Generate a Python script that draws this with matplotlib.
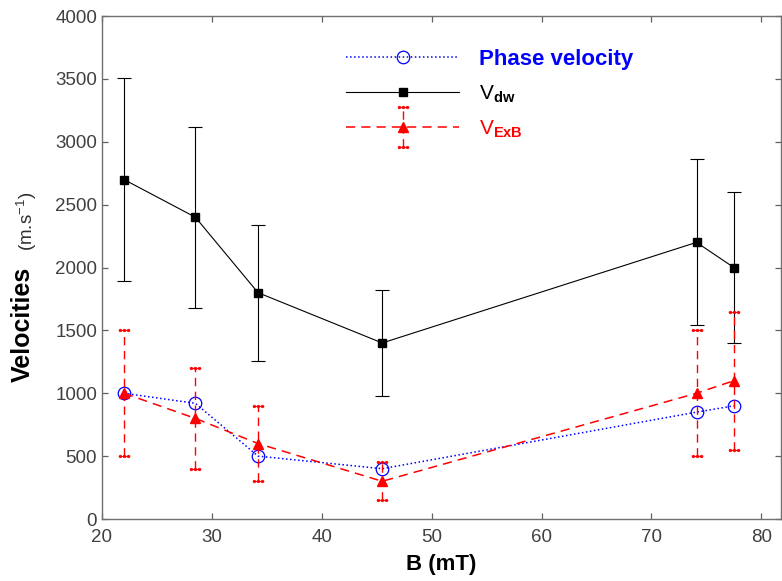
import numpy as np
import matplotlib.pyplot as plt
from matplotlib.path import Path
from matplotlib.lines import Line2D
from matplotlib.legend_handler import HandlerErrorbar

plt.rcParams['font.family'] = ['Liberation Sans', 'DejaVu Sans']
plt.rcParams['mathtext.fontset'] = 'custom'
plt.rcParams['mathtext.rm'] = 'Liberation Sans'
plt.rcParams['mathtext.bf'] = 'Liberation Sans:bold'
plt.rcParams['mathtext.default'] = 'regular'

# magnetic field (mT) for each measurement
field = [22.0, 28.5, 34.2, 45.5, 74.1, 77.5]

# phase velocity (m/s)
v_phase = [1000, 920, 500, 400, 850, 900]

# drift wave velocity and its error (m/s)
v_dw = [2700, 2400, 1800, 1400, 2200, 2000]
v_dw_err = [810, 720, 540, 420, 660, 600]

# ExB drift velocity and its error (m/s)
v_exb = [1000, 800, 600, 300, 1000, 1100]
v_exb_err = [500, 400, 300, 150, 500, 550]

xticks = [20, 30, 40, 50, 60, 70, 80]
yticks = [0, 500, 1000, 1500, 2000, 2500, 3000, 3500, 4000]

# cap marker that looks like a short dotted segment
dots = [Path.circle((cx, 0.0), 0.38) for cx in (-1.1, 0.0, 1.1)]
bar = Path([(-1.1, -0.1), (1.1, -0.1), (1.1, 0.1), (-1.1, 0.1), (-1.1, -0.1)],
           [Path.MOVETO, Path.LINETO, Path.LINETO, Path.LINETO, Path.CLOSEPOLY])
dotcap = Path.make_compound_path(*dots, bar)


def style_cap(line):
    line.set_marker(dotcap)
    line.set_markersize(8)
    line.set_markerfacecolor('red')
    line.set_markeredgecolor('red')
    line.set_markeredgewidth(0.3)


class DotCapHandler(HandlerErrorbar):
    def create_artists(self, *args, **kw):
        arts = super().create_artists(*args, **kw)
        for a in arts:
            if isinstance(a, Line2D) and a.get_marker() == '_':
                style_cap(a)
        return arts


fig = plt.figure(figsize=(7.82, 5.81), dpi=100)
ax = fig.add_axes([0.1304, 0.1067, 0.8685, 0.8657])

ph, = ax.plot(field, v_phase, linestyle=':', color='blue', lw=1.1,
              marker='o', markersize=9, markerfacecolor='none',
              markeredgecolor='blue', markeredgewidth=0.9, zorder=4)

dw = ax.errorbar(field, v_dw, yerr=v_dw_err, color='black', lw=0.8,
                 elinewidth=0.8, capsize=4.7, capthick=0.8,
                 marker='s', markersize=5.5, zorder=3)

ex = ax.errorbar(field, v_exb, yerr=v_exb_err, color='red', lw=1.1,
                 linestyle='--', dashes=(6, 4), elinewidth=1.0, capsize=4,
                 marker='^', markersize=7.5, zorder=5)
ex[2][0].set_linestyle((0, (6, 4)))
for cap in ex[1]:
    style_cap(cap)

ax.set_xlim(20, 81.8)
ax.set_ylim(0, 4000)
ax.set_xticks(xticks)
ax.set_yticks(yticks)
ax.tick_params(direction='in', length=4, width=0.9, color='#606060',
               labelcolor='#404040', labelsize=13.5, top=True, right=True)
ax.tick_params(axis='x', pad=7)
for sp in ax.spines.values():
    sp.set_color('#707070')
    sp.set_linewidth(1.0)

ax.set_xlabel('B (mT)', fontsize=16, fontweight='bold', labelpad=6)
ax.text(-0.116, 0.386, 'Velocities', rotation=90, fontsize=18,
        fontweight='bold', ha='center', va='center', transform=ax.transAxes)
ax.text(-0.110, 0.592, '(m.s$^{-1}$)', rotation=90, fontsize=13.5,
        color='#303030', ha='center', va='center', transform=ax.transAxes)

leg = ax.legend([ph, dw[0], ex],
                ['Phase velocity', r'V$_{\mathbf{dw}}$', r'V$_{\mathbf{ExB}}$'],
                loc='upper left', bbox_to_anchor=(0.33, 0.975), frameon=False,
                numpoints=1, handlelength=5.1, handletextpad=0.9,
                labelspacing=0.62, fontsize=16,
                handler_map={type(ex): DotCapHandler(yerr_size=0.9)})
texts = leg.get_texts()
texts[0].set_color('blue')
texts[0].set_fontweight('bold')
texts[1].set_color('black')
texts[1].set_fontsize(15)
texts[2].set_color('red')
texts[2].set_fontsize(15)

fig.savefig('out.png', dpi=100)
